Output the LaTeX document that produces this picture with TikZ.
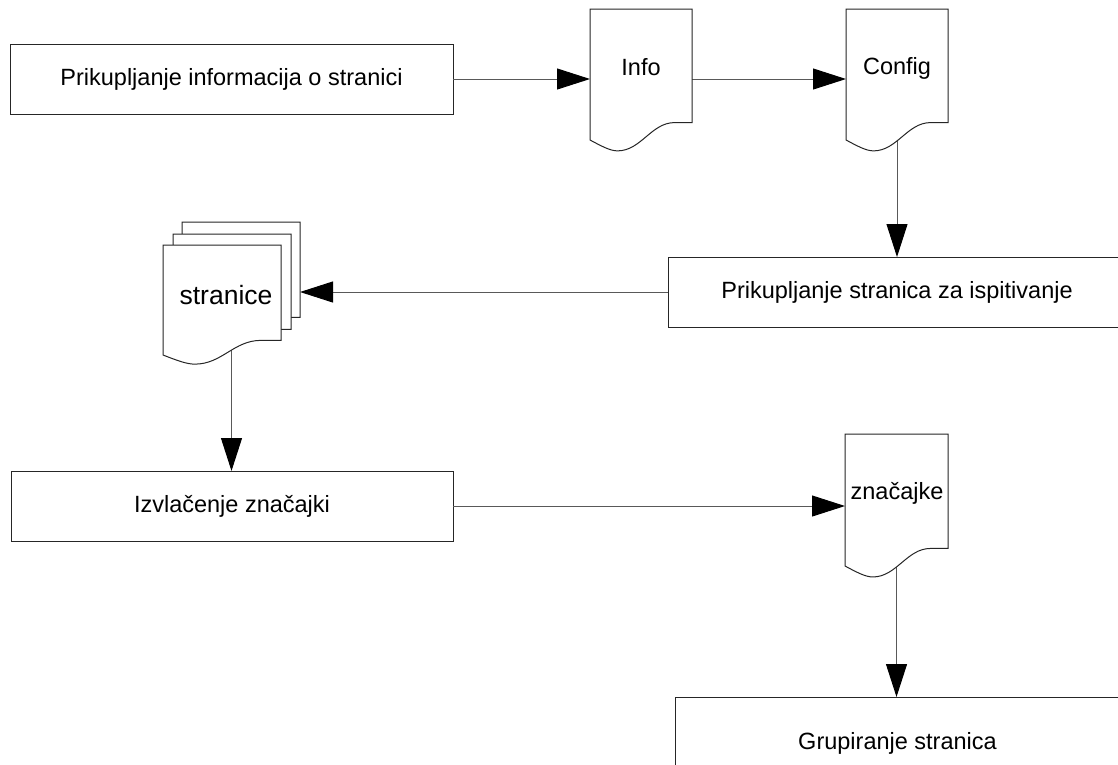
\documentclass[tikz,border=0pt]{standalone}
\usepackage{fontspec}
\setmainfont{Liberation Sans}
\usetikzlibrary{arrows.meta}

% document sheet with a wavy lower edge: left x, top y, width, height at the left corner
\newcommand\docsheet[4]{%
  \draw[sheet] (#1,#2) -- ({#1+#3},#2) -- ({#1+#3},{#2+0.867*#4})
    -- ({#1+0.83*#3},{#2+0.867*#4})
    .. controls ({#1+0.6*#3},{#2+0.867*#4}) and ({#1+0.5*#3},{#2+1.083*#4}) ..
    ({#1+0.27*#3},{#2+1.083*#4})
    .. controls ({#1+0.2*#3},{#2+1.083*#4}) and ({#1+0.12*#3},{#2+1.05*#4}) ..
    (#1,{#2+#4}) -- cycle;}

\tikzset{
  x=1pt, y=-1pt,
  every node/.style={font=\fontsize{23.5}{28}\selectfont, inner sep=0pt, outer sep=0pt},
  procbox/.style={draw=black!85, line width=1pt, fill=white},
  sheet/.style={draw=black!85, line width=1pt, fill=white},
  area/.style={draw=none, anchor=north west},
  flow/.style={draw=black!65, line width=1pt,
    -{Triangle[length=33pt,width=21pt,color=black]}},
}

\begin{document}
\begin{tikzpicture}
\useasboundingbox (0,0) rectangle (1118,764);
\clip (0,0) rectangle (1118,764);

% process boxes
\node[procbox, minimum width=443pt, minimum height=70pt] (collect) at (231.5,79)
  {Prikupljanje informacija o stranici};
\node[procbox, minimum width=458pt, minimum height=70pt] (sample) at (897,292)
  {Prikupljanje stranica za ispitivanje};
\node[procbox, minimum width=442pt, minimum height=70pt] (extract) at (232,506)
  {Izvlačenje značajki};
\node[procbox, minimum width=445pt, minimum height=92pt] (group) at (897.5,743)
  {Grupiranje stranica};

% areas covered by the document sheets, used as connector ends
\node[area, minimum width=102pt, minimum height=114pt] (info) at (590,9) {};
\node[area, minimum width=102pt, minimum height=114pt] (config) at (846,9) {};
\node[area, minimum width=137pt, minimum height=123pt] (pages) at (163,222) {};
\node[area, minimum width=103pt, minimum height=114pt] (feats) at (845,434) {};

% connectors (drawn before the sheets so the sheets hide their start)
\draw[flow] (collect.east) -- (collect.east -| info.west);
\draw[flow] (collect.east -| info.east) -- (collect.east -| config.west);
\draw[flow] (config.south) -- (config.south |- sample.north);
\draw[flow] (sample.west) -- (sample.west -| pages.east);
\draw[flow] (pages.south) -- (pages.south |- extract.north);
\draw[flow] (extract.east) -- (extract.east -| feats.west);
\draw[flow] (feats.south) -- (feats.south |- group.north);

% document sheets
\docsheet{590}{9}{102}{131}
\docsheet{846}{9}{102}{131}
\docsheet{182}{222}{118}{110}
\docsheet{173}{234}{118}{110}
\docsheet{163}{245}{118}{110}
\docsheet{845}{434}{103}{132}

% sheet labels
\node (infolbl) at (641,67) {Info};
\node (configlbl) at (897,68) {Config};
\node[font=\fontsize{26.5}{31}\selectfont] (pageslbl) at (226,295) {stranice};
\node (featslbl) at (897,493) {značajke};
\end{tikzpicture}
\end{document}
